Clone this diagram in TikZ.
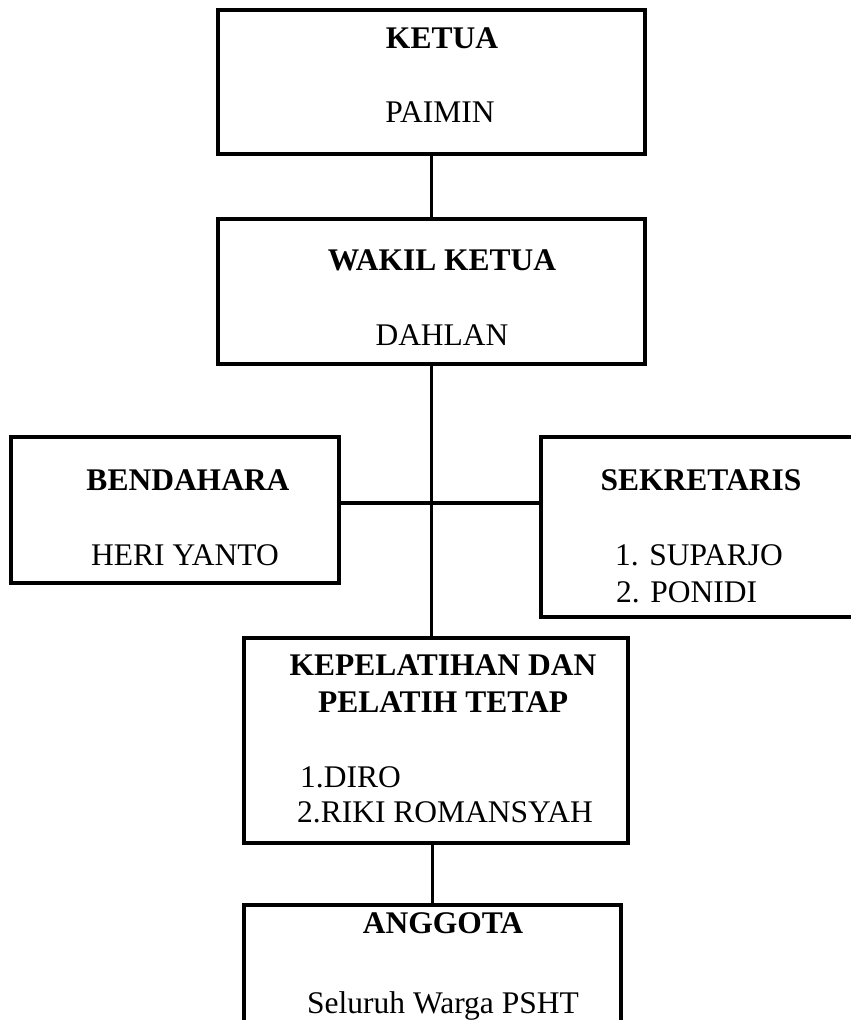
\documentclass[tikz,border=0pt]{standalone}
\usepackage{fontspec}
\setmainfont{Liberation Serif}
\begin{document}
\begin{tikzpicture}[x=1pt,y=-1pt,
  box/.style={draw=black,line width=3.8pt,rectangle,inner sep=0pt,outer sep=0pt},
  conn/.style={draw=black,line width=3.8pt},
  ttl/.style={font=\fontsize{31.5}{37}\selectfont\bfseries,inner sep=0pt,anchor=base},
  txt/.style={font=\fontsize{31.5}{37}\selectfont,inner sep=0pt,anchor=base},
  txtl/.style={font=\fontsize{31.5}{37}\selectfont,inner sep=0pt,anchor=base west}]
\useasboundingbox[fill=white] (0,0) rectangle (851,1020);
% boxes
\node[box,minimum width=427pt,minimum height=144pt] (ketua) at (431.5,82) {};
\node[box,minimum width=427pt,minimum height=145pt] (wakil) at (431.5,291.5) {};
\node[box,minimum width=328pt,minimum height=146pt] (bend) at (175,510) {};
\node[box,minimum width=359pt,minimum height=180pt] (sek) at (720.5,527) {};
\node[box,minimum width=384pt,minimum height=205pt] (kep) at (436,740.5) {};
\node[box,minimum width=377pt,minimum height=195pt] (ang) at (432.5,1002.5) {};
% connectors
\coordinate (j) at (431.5,503);
\draw[conn] (ketua.south) -- (wakil.north);
\draw[conn] (wakil.south) -- (wakil.south |- kep.north);
\draw[conn] (j -| bend.east) -- (j -| sek.west);
\draw[conn] (ang.north |- kep.south) -- (ang.north);
% texts
\node[ttl] (t1) at (442,48) {KETUA};
\node[txt] (t2) at (440,122) {PAIMIN};
\node[ttl] (t3) at (442,270) {WAKIL KETUA};
\node[txt] (t4) at (442,345) {DAHLAN};
\node[ttl] (t5) at (188,490) {BENDAHARA};
\node[txt] (t6) at (185,565) {HERI YANTO};
\node[ttl] (t7) at (701,490) {SEKRETARIS};
\node[txtl] (t8) at (615,565) {1. SUPARJO};
\node[txtl] (t9) at (616,602) {2. PONIDI};
\node[ttl] (t10) at (443,675) {KEPELATIHAN DAN};
\node[ttl] (t11) at (443,712) {PELATIH TETAP};
\node[txtl] (t12) at (300,787) {1.DIRO};
\node[txtl] (t13) at (297,822) {2.RIKI ROMANSYAH};
\node[ttl] (t14) at (443,933) {ANGGOTA};
\node[txt] (t15) at (443,1013) {Seluruh Warga PSHT};
\end{tikzpicture}
\end{document}
